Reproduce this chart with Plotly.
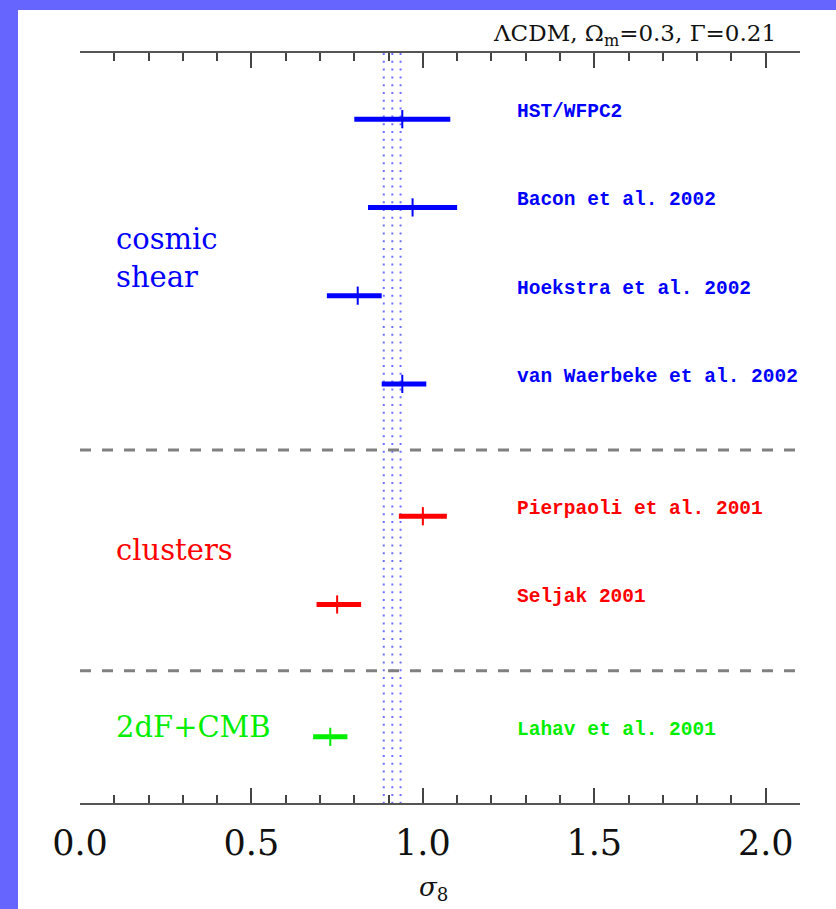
import plotly.graph_objects as go

# sigma_8 constraints: best value and interval for each measurement
names = ["HST/WFPC2", "Bacon et al. 2002", "Hoekstra et al. 2002",
         "van Waerbeke et al. 2002", "Pierpaoli et al. 2001", "Seljak 2001",
         "Lahav et al. 2001"]
rows = [0, 1, 2, 3, 4.5, 5.5, 7]
sigma8 = [0.94, 0.97, 0.81, 0.94, 1.00, 0.75, 0.73]
sigma8_lo = [0.80, 0.84, 0.72, 0.88, 0.93, 0.69, 0.68]
sigma8_hi = [1.08, 1.10, 0.88, 1.01, 1.07, 0.82, 0.78]
groups = ["shear", "shear", "shear", "shear", "clusters", "clusters", "cmb"]

group_colors = {"shear": "#0000ff", "clusters": "#ff0000", "cmb": "#00ee00"}

# method labels on the left
group_text = ["cosmic<br>shear", "clusters", "2dF+CMB"]
group_text_rows = [1.69, 5.0, 7.0]
group_text_keys = ["shear", "clusters", "cmb"]

# separators between method groups
divider_rows = [3.75, 6.25]

# combined cosmic-shear band (dotted verticals)
band_lines = [0.886, 0.911, 0.935]

x_range = [0.0, 2.1]
y_range = [7.75, -0.75]
label_x = 1.27

W, H = 836, 909
M_L, M_R, M_T, M_B = 80, 36, 53, 106
plot_h = H - M_T - M_B

fig = go.Figure()

# dotted band
for xb in band_lines:
    fig.add_trace(go.Scatter(
        x=[xb, xb], y=[y_range[1], y_range[0]], mode="lines",
        line=dict(color="#7070ff", width=2, dash="2px,5.8px"),
        hoverinfo="skip", showlegend=False))

# group separators
for yd in divider_rows:
    fig.add_trace(go.Scatter(
        x=x_range, y=[yd, yd], mode="lines",
        line=dict(color="#808080", width=3, dash="11px,11px"),
        hoverinfo="skip", showlegend=False))

# measurements with horizontal intervals
for n, r, s, lo, hi, g in zip(names, rows, sigma8, sigma8_lo, sigma8_hi, groups):
    c = group_colors[g]
    fig.add_trace(go.Scatter(
        x=[s], y=[r], mode="markers",
        marker=dict(symbol="line-ns-open", size=13, color=c,
                    line=dict(color=c, width=2)),
        error_x=dict(type="data", symmetric=False,
                     array=[hi - s], arrayminus=[s - lo],
                     color=c, thickness=5, width=0),
        name=n, showlegend=False))
    fig.add_annotation(
        x=label_x, y=r, xref="x", yref="y", text=n, showarrow=False,
        xanchor="left", yanchor="middle", yshift=7,
        font=dict(family="Liberation Mono", size=19.5, color=c, weight="bold"))

for t, r, k in zip(group_text, group_text_rows, group_text_keys):
    fig.add_annotation(
        x=0.1, y=r, xref="x", yref="y", text=t, showarrow=False,
        xanchor="left", yanchor="middle", yshift=10, align="left",
        font=dict(family="DejaVu Serif", size=29, color=group_colors[k]))

# model annotation above the top axis
fig.add_annotation(
    x=2.035, y=1 + (M_T - 35) / plot_h, xref="x", yref="paper",
    text="ΛCDM, Ω<sub>m</sub>=0.3, Γ=0.21", showarrow=False,
    xanchor="right", yanchor="middle",
    font=dict(family="DejaVu Serif", size=23, color="#111111"))

# axis title
fig.add_annotation(
    x=1.03, y=-(888 - (H - M_B)) / plot_h, xref="x", yref="paper",
    text="<i>σ</i><sub>8</sub>", showarrow=False,
    xanchor="center", yanchor="middle",
    font=dict(family="DejaVu Serif", size=26, color="#111111"))

# blue frame strips on the left and top of the page
fig.add_shape(type="rect", xref="paper", yref="paper",
              x0=-1, x1=(18 - M_L) / (W - M_L - M_R), y0=-1, y1=3,
              fillcolor="#6666ff", line=dict(width=0), layer="above")
fig.add_shape(type="rect", xref="paper", yref="paper",
              x0=-1, x1=3, y0=1 + (M_T - 10) / plot_h, y1=3,
              fillcolor="#6666ff", line=dict(width=0), layer="above")

fig.update_layout(
    width=W, height=H,
    margin=dict(l=M_L, r=M_R, t=M_T, b=M_B),
    paper_bgcolor="white", plot_bgcolor="white",
    showlegend=False,
    xaxis=dict(range=x_range, dtick=0.5, tick0=0, tickformat=".1f",
               ticks="inside", ticklen=15, tickwidth=1.5, tickcolor="#444444",
               showline=True, linewidth=2, linecolor="#555555",
               mirror="ticks", showgrid=False, zeroline=False,
               minor=dict(dtick=0.1, tick0=0, ticks="inside", ticklen=8,
                          tickwidth=1.5, tickcolor="#444444", showgrid=False),
               tickfont=dict(family="DejaVu Serif", size=35, color="#111111"),
               ticklabelstandoff=8),
    yaxis=dict(range=y_range, visible=False),
)

fig.write_html("out.html")
